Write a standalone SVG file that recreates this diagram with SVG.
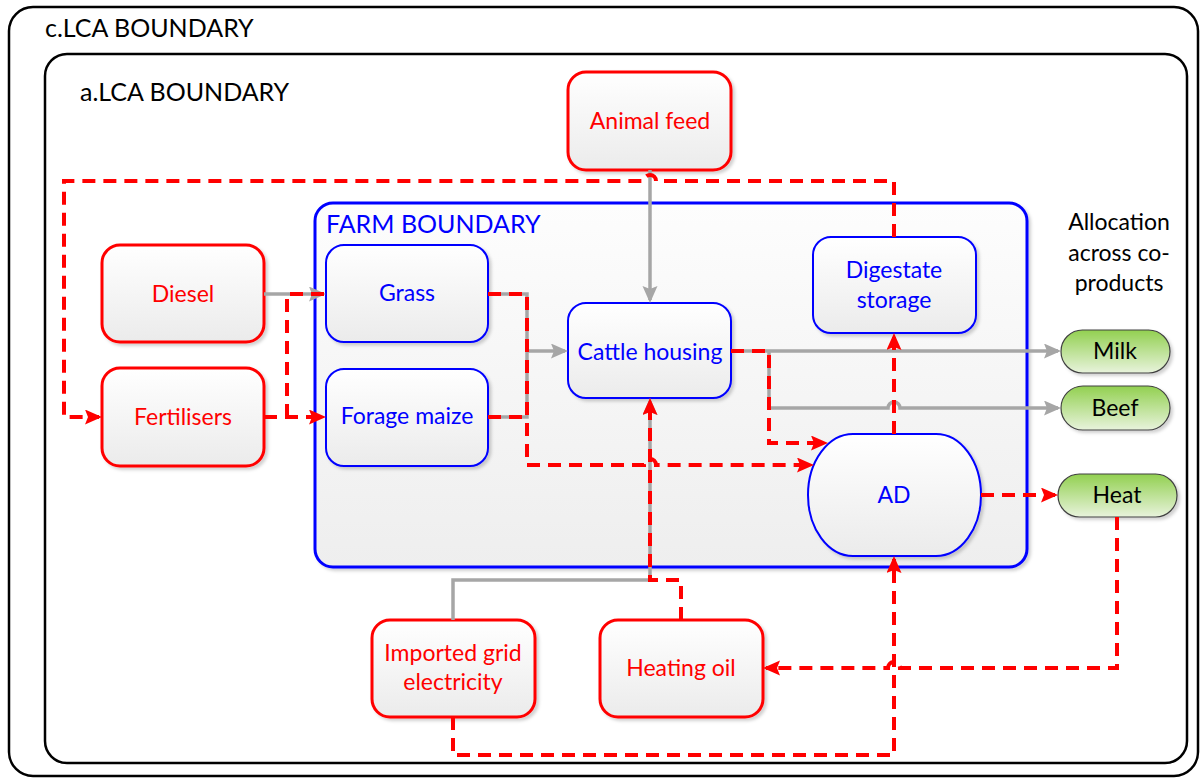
<svg xmlns="http://www.w3.org/2000/svg" width="1200" height="778" viewBox="0 0 1200 778">
  <defs>
    <linearGradient id="boxFill" x1="0" y1="0" x2="0" y2="1">
      <stop offset="0" stop-color="#ffffff"/>
      <stop offset="1" stop-color="#ebebeb"/>
    </linearGradient>
    <linearGradient id="farmFill" x1="0" y1="0" x2="0" y2="1">
      <stop offset="0" stop-color="#fdfdfd"/>
      <stop offset="1" stop-color="#eeeeee"/>
    </linearGradient>
    <linearGradient id="greenFill" x1="0" y1="0" x2="0" y2="1">
      <stop offset="0" stop-color="#92d050"/>
      <stop offset="1" stop-color="#e8f3dc"/>
    </linearGradient>
    <filter id="shadow" x="-10%" y="-10%" width="130%" height="130%">
      <feDropShadow dx="2.5" dy="2.5" stdDeviation="1.5" flood-color="#000" flood-opacity="0.18"/>
    </filter>
    <marker id="arrRed" markerUnits="userSpaceOnUse" markerWidth="19" markerHeight="17" refX="14" refY="7.5" orient="auto">
      <path d="M0,0 L17,7.5 L0,15 L3,7.5 z" fill="#ff0000"/>
    </marker>
    <marker id="arrGray" markerUnits="userSpaceOnUse" markerWidth="19" markerHeight="17" refX="14" refY="7.5" orient="auto">
      <path d="M0,0 L17,7.5 L0,15 L3,7.5 z" fill="#a6a6a6"/>
    </marker>
    <style>
      text { font-family: "Lato", "Liberation Sans", Arial, sans-serif; font-size: 23px; }
      .title { font-size: 25px; fill: #000; }
      .farmTitle { font-size: 25px; fill: #0000ff; }
      .input rect { fill: url(#boxFill); stroke: #ff0000; stroke-width: 3; filter: url(#shadow); }
      .input text { fill: #ff0000; text-anchor: middle; }
      .proc rect { fill: url(#boxFill); stroke: #0000ff; stroke-width: 2; filter: url(#shadow); }
      .proc text { fill: #0000ff; text-anchor: middle; }
      .prod rect { fill: url(#greenFill); stroke: #404040; stroke-width: 1.2; filter: url(#shadow); }
      .prod text { fill: #000; text-anchor: middle; }
      .gray { fill: none; stroke: #a6a6a6; stroke-width: 3.5; }
      .red { fill: none; stroke: #ff0000; stroke-width: 4; stroke-dasharray: 13 8; }
      .ga { marker-end: url(#arrGray); }
      .ra { marker-end: url(#arrRed); }
    </style>
  </defs>

  <rect width="1200" height="778" fill="#ffffff"/>

  <!-- system boundaries -->
  <g id="boundary-c">
    <rect x="9" y="7" width="1189" height="769" rx="24" fill="none" stroke="#000" stroke-width="2.5"/>
    <text class="title" x="45" y="37">c.LCA BOUNDARY</text>
  </g>
  <g id="boundary-a">
    <rect x="45" y="54" width="1142" height="709" rx="22" fill="none" stroke="#000" stroke-width="2.5"/>
    <text class="title" x="80" y="101">a.LCA BOUNDARY</text>
  </g>
  <g id="boundary-farm">
    <rect x="315" y="203" width="712" height="364" rx="18" fill="url(#farmFill)" stroke="#0000ff" stroke-width="3" filter="url(#shadow)"/>
    <text class="farmTitle" x="326" y="233">FARM BOUNDARY</text>
  </g>

  <g id="allocation-label">
    <text x="1119" y="230" text-anchor="middle">Allocation</text>
    <text x="1119" y="261" text-anchor="middle">across co-</text>
    <text x="1119" y="291" text-anchor="middle">products</text>
  </g>

  <!-- nodes -->
  <g id="animal-feed" class="input">
    <rect x="568" y="72" width="163" height="98" rx="18"/>
    <text x="650" y="129">Animal feed</text>
  </g>
  <g id="diesel" class="input">
    <rect x="102" y="245" width="162" height="97" rx="18"/>
    <text x="183" y="302">Diesel</text>
  </g>
  <g id="fertilisers" class="input">
    <rect x="102" y="368" width="162" height="98" rx="18"/>
    <text x="183" y="425">Fertilisers</text>
  </g>
  <g id="grid-electricity" class="input">
    <rect x="372" y="620" width="163" height="97" rx="18"/>
    <text x="453" y="661">Imported grid</text>
    <text x="453" y="690">electricity</text>
  </g>
  <g id="heating-oil" class="input">
    <rect x="600" y="620" width="163" height="97" rx="18"/>
    <text x="681" y="676">Heating oil</text>
  </g>

  <g id="grass" class="proc">
    <rect x="326" y="245" width="162" height="97" rx="18"/>
    <text x="407" y="301">Grass</text>
  </g>
  <g id="forage-maize" class="proc">
    <rect x="326" y="369" width="162" height="97" rx="18"/>
    <text x="407" y="424">Forage maize</text>
  </g>
  <g id="cattle-housing" class="proc">
    <rect x="568" y="303" width="163" height="95" rx="18"/>
    <text x="650" y="360">Cattle housing</text>
  </g>
  <g id="digestate-storage" class="proc">
    <rect x="813" y="237" width="163" height="96" rx="18"/>
    <text x="894" y="278">Digestate</text>
    <text x="894" y="308">storage</text>
  </g>
  <g id="ad" class="proc">
    <rect x="808" y="434" width="173" height="122" rx="45" ry="61"/>
    <text x="894" y="503">AD</text>
  </g>

  <g id="milk" class="prod">
    <rect x="1061" y="330" width="109" height="43" rx="21.5"/>
    <text x="1115" y="359">Milk</text>
  </g>
  <g id="beef" class="prod">
    <rect x="1061" y="386" width="109" height="44" rx="22"/>
    <text x="1115" y="416">Beef</text>
  </g>
  <g id="heat" class="prod">
    <rect x="1058" y="474" width="119" height="43" rx="21.5"/>
    <text x="1117" y="503">Heat</text>
  </g>

  <!-- connectors -->
  <g id="connectors">
    <!-- material flows -->
    <path class="gray ga" d="M650,170 V300"/>
    <path class="gray ga" d="M264,294 H323"/>
    <path class="gray" d="M488,294 H527 V417 H488"/>
    <path class="gray ga" d="M527,351 H565"/>
    <path class="gray ga" d="M731,351 H1058"/>
    <path class="gray ga" d="M769,351 V408 H888 A6,6 0 0 1 900,408 H1058"/>
    <path class="gray ga" d="M453,620 V580 H650 V401"/>

    <!-- emission / energy flows -->
    <path class="red ra" d="M894,237 V181 H656 A6,6 0 0 0 644,181 H64 V417 H99"/>
    <path class="red ra" d="M264,417 H323"/>
    <path class="red" d="M287,417 V294 H326"/>
    <path class="red ra" d="M488,294 H527 V465 H644 A6,6 0 0 1 656,465 H811"/>
    <path class="red" d="M488,417 H527"/>
    <path class="red ra" d="M731,351 H769 V443 H825"/>
    <path class="red ra" d="M894,434 V336"/>
    <path class="red ra" d="M981,495 H1055"/>
    <path class="red ra" d="M1117,517 V668 H900 A6,6 0 0 0 888,668 H766"/>
    <path class="red ra" d="M681,620 V580 H650 V401"/>
    <path class="red ra" d="M453,717 V755 H894 V559"/>
  </g>
</svg>
